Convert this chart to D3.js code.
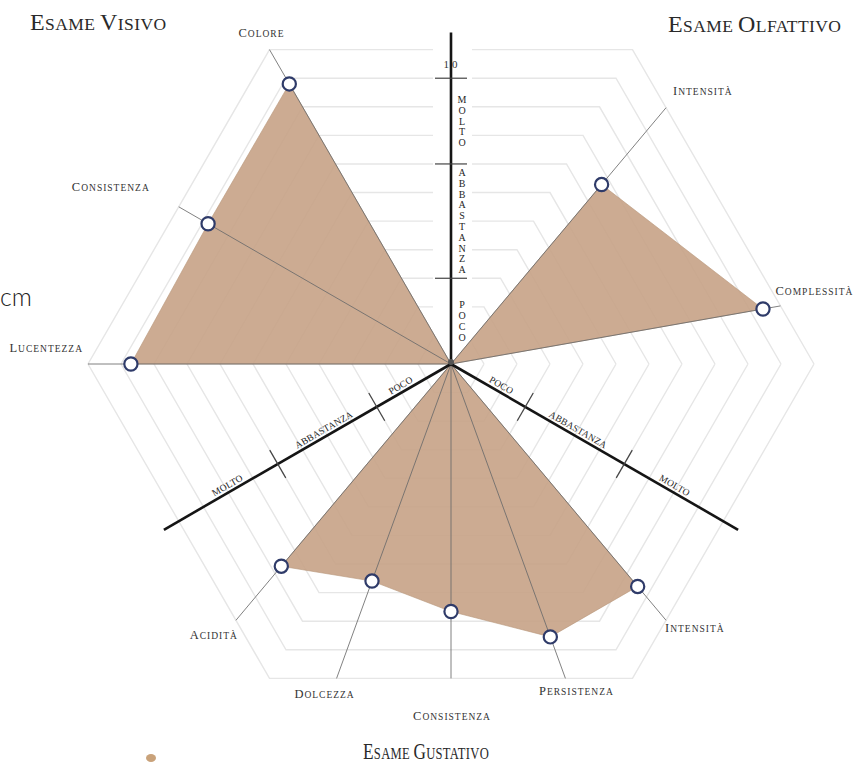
<!DOCTYPE html>
<html>
<head>
<meta charset="utf-8">
<script src="https://cdn.jsdelivr.net/npm/d3@7"></script>
<style>
body { margin: 0; background: #fff; }
</style>
</head>
<body>
<script>
var width = 867,
    height = 765;

// dati (scala 0-10)
var visivoLabels = ["Colore", "Consistenza", "Lucentezza"];
var visivoValues = [9.8, 8.5, 9.7];
var olfattivoLabels = ["Intensità", "Complessità"];
var olfattivoValues = [7.1, 9.6];
var gustativoLabels = ["Acidità", "Dolcezza", "Consistenza", "Persistenza", "Intensità"];
var gustativoValues = [8.0, 7.0, 7.5, 8.8, 8.8];
var scaleLabels = ["Poco", "Abbastanza", "Molto"];
var scaleBreaks = [0, 3, 7, 10];
var titles = ["Esame Visivo", "Esame Olfattivo", "Esame Gustativo"];

var cx = 451, cy = 364;
var rings = d3.range(1, 12);
var r = d3.scaleLinear().domain([0, 10]).range([0, 330]);
var cos30 = Math.cos(Math.PI / 6);
function apothem(v) { return r(v) * cos30; }
function rad(a) { return a * Math.PI / 180; }
function pt(a, d) { return [cx + d * Math.cos(rad(a)), cy - d * Math.sin(rad(a))]; }
// distanza dal centro al bordo dell'esagono v lungo l'angolo a
function hexDist(a, v) {
  var dd = (((a - 30) % 60) + 60) % 60;
  if (dd > 30) dd = 60 - dd;
  return apothem(v) / Math.cos(rad(dd));
}

var sectors = [
  {labels: visivoLabels, values: visivoValues, start: 90, span: 120,
   lab: [[-8, -13, "middle"], [-29, -16, "end"], [-5, -12, "end"]]},
  {labels: olfattivoLabels, values: olfattivoValues, start: 90, span: -120,
   lab: [[7, -13, "start"], [-5, -11, "start"]]},
  {labels: gustativoLabels, values: gustativoValues, start: 210, span: 120,
   lab: [[2, 19, "end"], [-12, 20, "middle"], [1, 42, "middle"], [11, 17, "middle"], [-1, 12, "start"]]}
];
sectors.forEach(function(s) {
  var n = s.labels.length;
  s.angles = s.labels.map(function(l, i) { return s.start + s.span * (i + 1) / (n + 1); });
});

var svg = d3.select("body").append("svg")
            .attr("width", width)
            .attr("height", height);

function smallCaps(sel, str, big, small) {
  str.split(" ").forEach(function(w, i) {
    if (i > 0) sel.append("tspan").attr("font-size", small).text(" ");
    sel.append("tspan").attr("font-size", big).text(w[0].toUpperCase());
    sel.append("tspan").attr("font-size", small).text(w.slice(1).toUpperCase());
  });
}

// griglia esagonale
var line = d3.line();
svg.append("g").selectAll("path")
   .data(rings)
   .enter()
   .append("path")
   .attr("d", function(k) {
     return line(d3.range(0, 7).map(function(j) { return pt(j * 60, r(k)); }));
   })
   .attr("fill", "none")
   .attr("stroke", "#e6e6e6")
   .attr("stroke-width", 1.4);

// spazio bianco attorno all'asse verticale
svg.append("rect")
   .attr("x", cx - 18).attr("y", cy - apothem(11.8))
   .attr("width", 39).attr("height", apothem(11.8) - 6)
   .attr("fill", "#fff");

// aree
sectors.forEach(function(s) {
  var pts = [[cx, cy]].concat(s.values.map(function(v, i) { return pt(s.angles[i], r(v)); }));
  svg.append("path")
     .attr("d", line(pts) + "Z")
     .attr("fill", "#c6a286")
     .attr("fill-opacity", 0.9)
     .attr("stroke", "#b79578")
     .attr("stroke-width", 0.6);
});

// raggi
sectors.forEach(function(s) {
  s.angles.forEach(function(a) {
    var e = pt(a, hexDist(a, 11));
    svg.append("line")
       .attr("x1", cx).attr("y1", cy)
       .attr("x2", e[0]).attr("y2", e[1])
       .attr("stroke", "#6b6b6b")
       .attr("stroke-opacity", 0.85)
       .attr("stroke-width", 1);
  });
});

// assi principali
var axisAngles = [90, 210, 330];
axisAngles.forEach(function(a, ai) {
  var e = pt(a, apothem(11.6));
  svg.append("line")
     .attr("x1", cx).attr("y1", cy)
     .attr("x2", e[0]).attr("y2", e[1])
     .attr("stroke", "#151515")
     .attr("stroke-width", 2.6);

  var ticks = ai === 0 ? scaleBreaks.slice(1) : scaleBreaks.slice(1, 3);
  var nx = -Math.sin(rad(a)), ny = -Math.cos(rad(a));
  ticks.forEach(function(t) {
    var p = pt(a, apothem(t));
    svg.append("line")
       .attr("x1", p[0] - 16 * nx).attr("y1", p[1] - 16 * ny)
       .attr("x2", p[0] + 16 * nx).attr("y2", p[1] + 16 * ny)
       .attr("stroke", "#444")
       .attr("stroke-width", 1.2);
  });

  if (ai === 0) {
    // lettere impilate accanto all'asse verticale
    var mids = [1.5, 5, 8.5];
    scaleLabels.forEach(function(lbl, li) {
      var letters = lbl.toUpperCase().split("");
      var mid = cy - apothem(mids[li]);
      var pitch = 10.8;
      letters.forEach(function(ch, ci) {
        svg.append("text")
           .attr("x", cx + 11)
           .attr("y", mid + (ci - (letters.length - 1) / 2) * pitch + 3.5)
           .attr("text-anchor", "middle")
           .attr("font-family", "Liberation Serif, serif")
           .attr("font-size", 10)
           .attr("fill", "#1e1e1e")
           .text(ch);
      });
    });
    svg.append("text")
       .attr("x", cx + 1).attr("y", cy - apothem(10) - 10)
       .attr("text-anchor", "middle")
       .attr("font-family", "Liberation Serif, serif")
       .attr("font-size", 11)
       .attr("letter-spacing", 3)
       .attr("fill", "#333")
       .text(scaleBreaks[3]);
  } else {
    var along = [1.9, 5, 8.9];
    var rot = ai === 1 ? -30 : 30;
    scaleLabels.forEach(function(lbl, li) {
      var p = pt(a, apothem(along[li]));
      svg.append("text")
         .attr("transform", "translate(" + p[0] + "," + p[1] + ") rotate(" + rot + ")")
         .attr("y", -3.5)
         .attr("text-anchor", "middle")
         .attr("font-family", "Liberation Serif, serif")
         .attr("font-size", 9.5)
         .attr("letter-spacing", 0.2)
         .attr("fill", "#1e1e1e")
         .text(lbl.toUpperCase());
    });
  }
});

svg.append("circle")
   .attr("cx", cx).attr("cy", cy - 2).attr("r", 3)
   .attr("fill", "#555");

// marcatori
sectors.forEach(function(s) {
  s.values.forEach(function(v, i) {
    var p = pt(s.angles[i], r(v));
    svg.append("circle")
       .attr("cx", p[0]).attr("cy", p[1]).attr("r", 6.6)
       .attr("fill", "#fff")
       .attr("stroke", "#2f3b69")
       .attr("stroke-width", 2.2);
  });
});

// etichette
sectors.forEach(function(s) {
  s.labels.forEach(function(l, i) {
    var a = s.angles[i];
    var e = pt(a, hexDist(a, 11));
    var t = svg.append("text")
       .attr("x", e[0] + s.lab[i][0])
       .attr("y", e[1] + s.lab[i][1])
       .attr("text-anchor", s.lab[i][2])
       .attr("font-family", "Liberation Serif, serif")
       .attr("letter-spacing", 1)
       .attr("fill", "#333");
    smallCaps(t, l, 12.5, 9.5);
  });
});

// titoli
var titlePos = [[30, 30, 1], [668, 32, 1], [363, 759, 0.72]];
titles.forEach(function(tt, i) {
  var t = svg.append("text")
     .attr("transform", "translate(" + titlePos[i][0] + "," + titlePos[i][1] + ") scale(" + titlePos[i][2] + ",1)")
     .attr("font-family", "Liberation Serif, serif")
     .attr("letter-spacing", 0.4)
     .attr("fill", "#2a2a2a");
  smallCaps(t, tt, 24, 17.5);
});

// residui dell'immagine originale
svg.append("text")
   .attr("x", 0).attr("y", 306)
   .attr("font-family", "Lato, sans-serif")
   .attr("font-weight", 300)
   .attr("font-size", 25)
   .attr("fill", "#222")
   .text("cm");
svg.append("ellipse")
   .attr("cx", 151).attr("cy", 758).attr("rx", 5).attr("ry", 4)
   .attr("fill", "#c9a27a");
</script>
</body>
</html>
